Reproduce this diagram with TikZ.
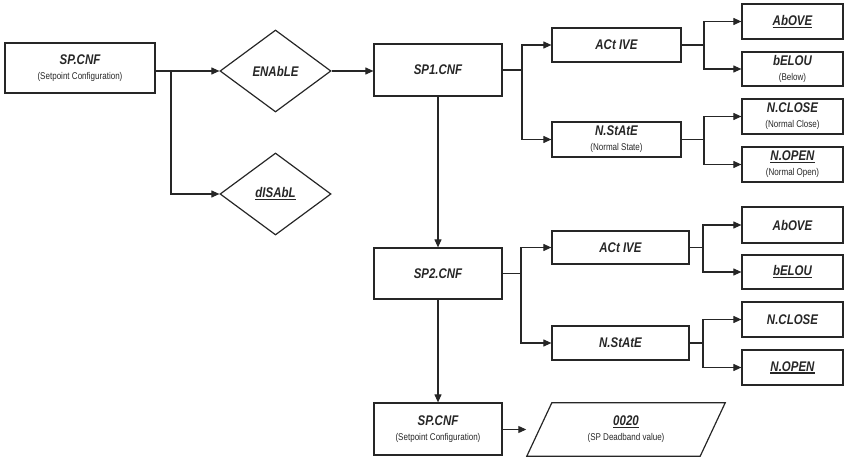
\documentclass[tikz,border=0pt]{standalone}
\usepackage{fontspec}
\setmainfont{Liberation Sans}
\newfontfamily\nar[FakeStretch=0.82]{Liberation Sans}
\usetikzlibrary{arrows.meta,shapes.geometric}
\newcommand\tlf{\nar\bfseries\itshape\fontsize{14}{17}\selectfont}
\newcommand\sbf{\nar\mdseries\upshape\fontsize{9.8}{11}\selectfont}
\newcommand\ulx[1]{\setbox0=\hbox{#1}\rlap{\rule[-2.6pt]{\wd0}{1.2pt}}\box0}
\begin{document}
\begin{tikzpicture}[x=1pt,y=-1pt,
  box/.style={draw=black!85,line width=1.2pt,rectangle,inner sep=0pt,font=\tlf,align=center,text=black!85},
  dia/.style={draw=black!85,line width=1.2pt,diamond,aspect=1.35,inner sep=0pt,minimum width=111pt,minimum height=82pt,font=\tlf,text=black!85},
  ln/.style={draw=black!85,line width=1.1pt},
  arr/.style={ln,-{Triangle[length=8pt,width=7pt]}}]
\useasboundingbox (0,0) rectangle (847,457);
% level 0
\node[box,minimum width=150pt,minimum height=50pt] (sp) at (80,68) {SP.CNF\\[-2pt]{\sbf (Setpoint Configuration)}};
\node[dia] (en) at (275.5,71) {ENAbLE};
\node[dia] (dis) at (275.5,194) {\ulx{dISAbL}};
% SP1 branch
\node[box,minimum width=128pt,minimum height=52pt] (sp1) at (438,70) {SP1.CNF};
\node[box,minimum width=129pt,minimum height=34pt] (act1) at (616.5,45) {ACt IVE};
\node[box,minimum width=129pt,minimum height=35pt] (nst1) at (616.5,139.5) {N.StAtE\\[-2pt]{\sbf (Normal State)}};
\node[box,minimum width=101pt,minimum height=35pt] (ab1) at (792.5,21.5) {\ulx{AbOVE}};
\node[box,minimum width=101pt,minimum height=34pt] (be1) at (792.5,69) {bELOU\\[-2pt]{\sbf (Below)}};
\node[box,minimum width=101pt,minimum height=35pt] (nc1) at (792.5,116.5) {N.CLOSE\\[-2pt]{\sbf (Normal Close)}};
\node[box,minimum width=101pt,minimum height=35pt] (no1) at (792.5,164.5) {\ulx{N.OPEN}\\[-2pt]{\sbf (Normal Open)}};
% SP2 branch
\node[box,minimum width=128pt,minimum height=51pt] (sp2) at (438,273.5) {SP2.CNF};
\node[box,minimum width=137pt,minimum height=33pt] (act2) at (620.5,247.5) {ACt IVE};
\node[box,minimum width=137pt,minimum height=34pt] (nst2) at (620.5,343) {N.StAtE};
\node[box,minimum width=101pt,minimum height=36pt] (ab2) at (792.5,225) {AbOVE};
\node[box,minimum width=101pt,minimum height=34pt] (be2) at (792.5,272) {\ulx{bELOU}};
\node[box,minimum width=101pt,minimum height=35pt] (nc2) at (792.5,319.5) {N.CLOSE};
\node[box,minimum width=101pt,minimum height=35pt] (no2) at (792.5,367.5) {\ulx{N.OPEN}};
% bottom
\node[box,minimum width=128pt,minimum height=52pt] (sp3) at (438,429) {SP.CNF\\[-2pt]{\sbf (Setpoint Configuration)}};
\node[inner sep=0pt,minimum width=173pt,minimum height=53pt,font=\tlf,align=center,text=black!85] (dv) at (626,429.5) {\ulx{0020}\\[-2pt]{\sbf (SP Deadband value)}};
\draw[ln,line width=1.2pt] ([xshift=-12.5pt]dv.south west) -- ([xshift=12.5pt]dv.north west) -- ([xshift=12.5pt]dv.north east) -- ([xshift=-12.5pt]dv.south east) -- cycle;
\coordinate (dvin) at ([xshift=-13pt]dv.west);
% junctions
\coordinate (j1) at (171,71);
\coordinate (j2) at (522,70);
\coordinate (j3) at (704,45);
\coordinate (j4) at (704,139.5);
\coordinate (j5) at (521,273.5);
\coordinate (j6) at (703,247.5);
\coordinate (j7) at (703,343);
% connectors
\draw[ln] (sp.east |- j1) -- (j1);
\draw[arr] (j1) -- (en.west);
\draw[arr] (j1) |- (dis.west);
\draw[arr] (en.east) -- (en.east -| sp1.west);
\draw[ln] (sp1.east) -- (j2);
\draw[arr] (j2) |- (act1.west);
\draw[arr] (j2) |- (nst1.west);
\draw[ln] (act1.east) -- (j3);
\draw[arr] (j3) |- (ab1.west);
\draw[arr] (j3) |- (be1.west);
\draw[ln] (nst1.east) -- (j4);
\draw[arr] (j4) |- (nc1.west);
\draw[arr] (j4) |- (no1.west);
\draw[arr] (sp1.south) -- (sp2.north);
\draw[ln] (sp2.east) -- (j5);
\draw[arr] (j5) |- (act2.west);
\draw[arr] (j5) |- (nst2.west);
\draw[ln] (act2.east) -- (j6);
\draw[arr] (j6) |- (ab2.west);
\draw[arr] (j6) |- (be2.west);
\draw[ln] (nst2.east) -- (j7);
\draw[arr] (j7) |- (nc2.west);
\draw[arr] (j7) |- (no2.west);
\draw[arr] (sp2.south) -- (sp3.north);
\draw[arr] (sp3.east |- dvin) -- (dvin);
\end{tikzpicture}
\end{document}
